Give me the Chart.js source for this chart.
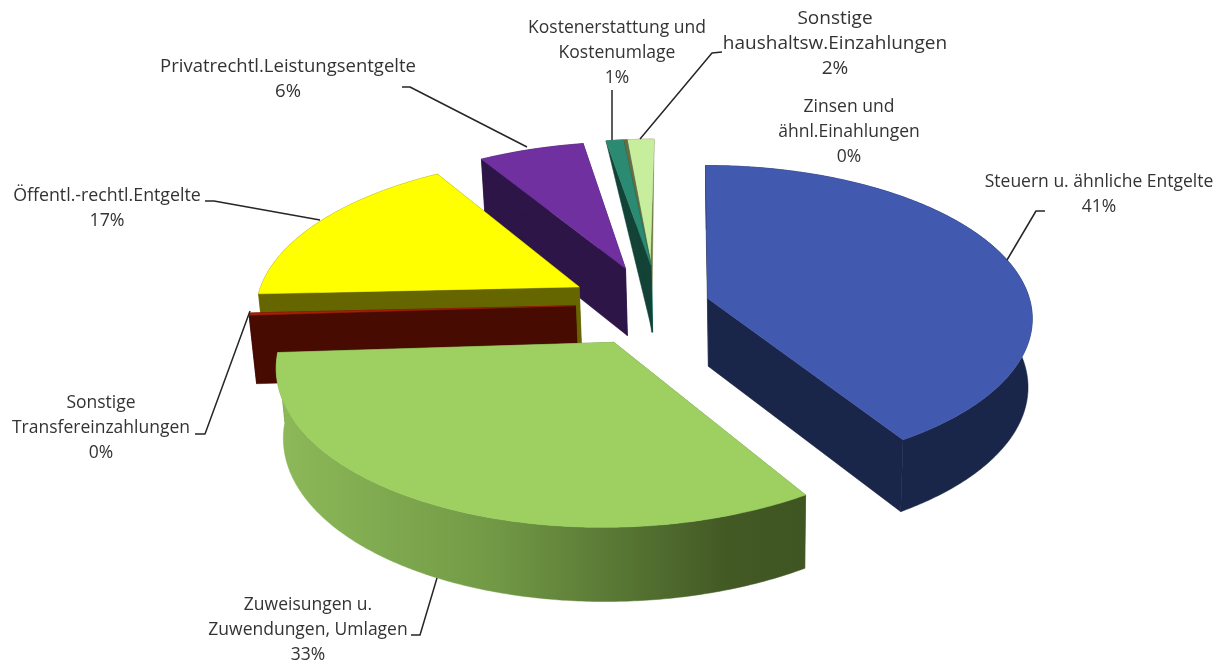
<!DOCTYPE html>
<html><head><meta charset="utf-8">
<style>html,body{margin:0;background:#fff}canvas{display:block}</style>
<script src="https://cdn.jsdelivr.net/npm/chart.js@4"></script>
</head><body><canvas id="c" width="1226" height="664"></canvas>
<script>
const categories = ['Steuern u. ähnliche Entgelte','Zuweisungen u. Zuwendungen, Umlagen','Sonstige Transfereinzahlungen','Öffentl.-rechtl.Entgelte','Privatrechtl.Leistungsentgelte','Kostenerstattung und Kostenumlage','Zinsen und ähnl.Einahlungen','Sonstige haushaltsw.Einzahlungen'];
const values = [41, 33, 0.25, 16.9, 6.05, 1, 0.2, 1.6];
const percentLabels = ['41%','33%','0%','17%','6%','1%','0%','2%'];
const topColors = ['#4159ae','#9dd060','#a32005','#ffff00','#7030a0','#2a8a72','#6f6a3c','#c6ee9c'];
const sideColors = ['#1a2649','#5f7f38','#470b02','#666600','#2d1548','#134236','#2aa3a8','#6d7a45'];
const explode = [55, 85, 79, 87, 87, 89, 89, 89];
const explodeTurn = [0, 0, 3, 0, 0, 5, 3, -1];
const rimDepthScale = [1, 1, 1, 1, 1, 0, 0, 0];
const drawOrder = [7, 6, 5, 4, 3, 2, 1, 0];

const view = {cx:687, cy:300, k:0.466, D:2560, radius:322, ox:-32, oy:12, depth:68, vx:750, lean:0.015};
const labelBoxes = [
 {lines:['Steuern u. ähnliche Entgelte'], x:1099, y:182, size:17.5},
 {lines:['Zuweisungen u.','Zuwendungen, Umlagen'], x:308, y:605, size:17.5},
 {lines:['Sonstige','Transfereinzahlungen'], x:101, y:403, size:17.5},
 {lines:['Öffentl.-rechtl.Entgelte'], x:107, y:196, size:17.8},
 {lines:['Privatrechtl.Leistungsentgelte'], x:288, y:67, size:18.5},
 {lines:['Kostenerstattung und','Kostenumlage'], x:617, y:28, size:17.5},
 {lines:['Zinsen und','ähnl.Einahlungen'], x:849, y:107, size:17.5},
 {lines:['Sonstige','haushaltsw.Einzahlungen'], x:835, y:19, size:19}
];
const leaders = [
 [[1007,260],[1036,211],[1045,211]],
 [[437,578],[420,635],[411,635]],
 [[250,311],[205,434],[195,434]],
 [[320,220],[214,201],[205,201]],
 [[527,147],[410,87],[402,87]],
 [[612,140],[612,90]],
 [[640,139],[712,53],[722,52]]
];

function project(X, Y, depthScale){
  const w = 1 - Y / view.D;
  let x = view.cx + X / w, y = view.cy + view.k * Y / w;
  x += (view.vx - x) * view.lean * depthScale;
  y += depthScale * view.depth / Math.sqrt(w);
  return [x, y];
}
function pathOf(ctx, pts){
  ctx.beginPath();
  pts.forEach((p,i)=> i ? ctx.lineTo(p[0],p[1]) : ctx.moveTo(p[0],p[1]));
  ctx.closePath();
}
const pie3d = {
  id:'pie3d',
  beforeDatasetsDraw(chart){
    const ctx = chart.ctx, arcs = chart.getDatasetMeta(0).data;
    drawOrder.forEach(i=>{
      const el = arcs[i], a0 = el.startAngle, a1 = el.endAngle, mid = (a0+a1)/2;
      const turn = mid + explodeTurn[i]*Math.PI/180;
      const ax = view.ox + el.options.offset*Math.cos(turn);
      const ay = view.oy + el.options.offset*Math.sin(turn);
      const steps = Math.max(2, Math.ceil((a1-a0)/0.01));
      const rimT = [], rimB = [];
      for (let s=0;s<=steps;s++){
        const a = a0+(a1-a0)*s/steps;
        const X = ax+view.radius*Math.cos(a), Y = ay+view.radius*Math.sin(a);
        rimT.push(project(X,Y,0)); rimB.push(project(X,Y,rimDepthScale[i]));
      }
      const apexT = project(ax,ay,0), apexB = project(ax,ay,1);
      ctx.save();
      ctx.fillStyle = sideColors[i]; ctx.strokeStyle = sideColors[i]; ctx.lineWidth = 0.5;
      [[apexT,apexB,rimB[0],rimT[0]],[apexT,apexB,rimB[steps],rimT[steps]]].forEach(q=>{pathOf(ctx,q);ctx.fill();ctx.stroke();});
      let rimFill = sideColors[i];
      if (i===1){
        const g = ctx.createLinearGradient(285,0,800,0);
        g.addColorStop(0,'#8cb858'); g.addColorStop(0.4,'#729a46');
        g.addColorStop(0.85,'#435a25'); g.addColorStop(1,'#3f5522');
        rimFill = g;
      }
      ctx.fillStyle = rimFill; ctx.strokeStyle = rimFill;
      pathOf(ctx, rimT.concat(rimB.slice().reverse())); ctx.fill(); ctx.stroke();
      ctx.fillStyle = el.options.backgroundColor; ctx.strokeStyle = el.options.backgroundColor;
      pathOf(ctx, [apexT].concat(rimT)); ctx.fill(); ctx.stroke();
      ctx.restore();
    });
    return false;
  },
  afterDraw(chart){
    const ctx = chart.ctx;
    ctx.save();
    ctx.strokeStyle = '#262626'; ctx.lineWidth = 1.5; ctx.lineJoin='round';
    leaders.forEach(l=>{ctx.beginPath();l.forEach((p,i)=>i?ctx.lineTo(p[0],p[1]):ctx.moveTo(p[0],p[1]));ctx.stroke();});
    ctx.fillStyle = '#333'; ctx.textAlign='center'; ctx.textBaseline='middle';
    labelBoxes.forEach((b,i)=>{
      ctx.font = b.size+'px "Open Sans"';
      b.lines.concat(percentLabels[i]).forEach((t,j)=>ctx.fillText(t,b.x,b.y+j*25));
    });
    ctx.restore();
  }
};
new Chart(document.getElementById('c'),{
  type:'pie',
  data:{labels:categories,datasets:[{data:values,backgroundColor:topColors,offset:explode,borderWidth:0}]},
  options:{responsive:false,animation:false,rotation:0,
    plugins:{legend:{display:false},tooltip:{enabled:false}}},
  plugins:[pie3d]
});
</script></body></html>
